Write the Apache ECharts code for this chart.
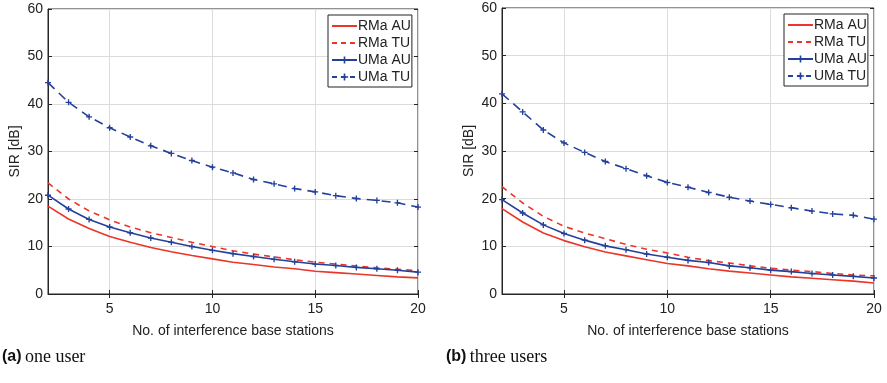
<!DOCTYPE html>
<html><head><meta charset="utf-8">
<script src="https://cdn.jsdelivr.net/npm/echarts@6/dist/echarts.min.js"></script>
<style>html,body{margin:0;padding:0;background:#fff}#c{width:887px;height:383px}</style>
</head><body><div id="c"></div>
<script>
const xValues = [2,3,4,5,6,7,8,9,10,11,12,13,14,15,16,17,18,19,20];
const xTicks = [5,10,15,20];
const seriesNames = ['RMa AU','RMa TU','UMa AU','UMa TU'];
// (a) one user
const oneRMaAU = [18.5,15.8,13.8,12.1,10.9,9.8,8.9,8.1,7.4,6.7,6.2,5.7,5.3,4.8,4.5,4.2,3.9,3.6,3.4];
const oneRMaTU = [23.4,20.0,17.5,15.6,14.1,12.9,11.9,10.9,10.0,9.1,8.4,7.8,7.2,6.7,6.3,5.9,5.5,5.2,4.9];
const oneUMaAU = [20.8,17.9,15.7,14.1,12.9,11.8,10.9,10.0,9.2,8.5,7.9,7.3,6.8,6.3,6.0,5.6,5.3,5.0,4.6];
const oneUMaTU = [44.5,40.35,37.3,35.0,33.05,31.2,29.6,28.1,26.7,25.5,24.1,23.2,22.2,21.5,20.7,20.1,19.7,19.2,18.3];
// (b) three users
const threeRMaAU = [17.9,15.1,12.8,11.2,9.9,8.8,8.0,7.2,6.4,5.9,5.3,4.8,4.4,4.0,3.6,3.3,3.0,2.7,2.3];
const threeRMaTU = [22.5,19.1,16.3,14.2,12.8,11.6,10.4,9.4,8.6,7.7,7.0,6.5,5.9,5.4,5.0,4.7,4.3,4.0,3.8];
const threeUMaAU = [19.8,17.0,14.5,12.7,11.3,10.1,9.3,8.4,7.7,7.05,6.6,5.9,5.5,5.0,4.7,4.3,4.0,3.7,3.35];
const threeUMaTU = [42.0,38.2,34.4,31.7,29.7,27.8,26.3,24.8,23.4,22.4,21.3,20.3,19.5,18.8,18.1,17.4,16.8,16.5,15.7];
const yTicks = [0,10,20,30,40,50,60];
const xTitle = 'No. of interference base stations';
const yTitle = 'SIR [dB]';
const captions = [['(a)','one user'],['(b)','three users']];

const RED = '#ea3528', BLUE = '#24409b';
const FONT = '"Liberation Sans", Arial, sans-serif';
const PLUS = 'path://M3.1,0h1.8v3.1h3.1v1.8h-3.1v3.1h-1.8v-3.1h-3.1v-1.8h3.1z';

const chart = echarts.init(document.getElementById('c'), null, {renderer:'canvas'});

const grids = [
  {left:48, right:469, top:9, bottom:89},
  {left:502, right:13, top:8, bottom:89}
];
const datasets = [
  [oneRMaAU, oneRMaTU, oneUMaAU, oneUMaTU],
  [threeRMaAU, threeRMaTU, threeUMaAU, threeUMaTU]
];
const xAxes = [], yAxes = [], series = [], legends = [];
grids.forEach((g, gi) => {
  g.show = true; g.borderColor = '#262626'; g.borderWidth = 1; g.backgroundColor = '#fff';
  xAxes.push({
    type:'value', gridIndex:gi, min:2, max:20,
    name: xTitle, nameLocation:'middle', nameGap:30,
    nameTextStyle:{fontFamily:FONT, fontSize:14, color:'#222'},
    axisLine:{show:true, onZero:false, lineStyle:{color:'#262626'}},
    axisTick:{show:true, inside:true, length:4, customValues:xTicks, lineStyle:{color:'#262626'}},
    axisLabel:{customValues:xTicks, fontFamily:FONT, fontSize:14, color:'#222', margin:8},
    splitLine:{show:true, lineStyle:{color:'#dcdcdc'}}
  });
  xAxes.push({
    type:'value', gridIndex:gi, min:2, max:20, position:'top',
    axisLine:{show:false},
    axisTick:{show:true, inside:true, length:4, customValues:xTicks, lineStyle:{color:'#262626'}},
    axisLabel:{show:false}, splitLine:{show:false}
  });
  yAxes.push({
    type:'value', gridIndex:gi, min:0, max:60, interval:10,
    name: yTitle, nameLocation:'middle', nameGap:26,
    nameTextStyle:{fontFamily:FONT, fontSize:14, color:'#222'},
    axisLine:{show:true, lineStyle:{color:'#262626'}},
    axisTick:{show:true, inside:true, length:4, lineStyle:{color:'#262626'}},
    axisLabel:{fontFamily:FONT, fontSize:14, color:'#222', margin:5},
    splitLine:{show:true, lineStyle:{color:'#dcdcdc'}}
  });
  yAxes.push({
    type:'value', gridIndex:gi, min:0, max:60, interval:10, position:'right',
    axisLine:{show:false},
    axisTick:{show:true, inside:true, length:4, lineStyle:{color:'#262626'}},
    axisLabel:{show:false}, splitLine:{show:false}
  });
  const d = datasets[gi];
  const styles = [
    {color:RED, dash:'solid', sym:'none'},
    {color:RED, dash:[6,5], sym:'none'},
    {color:BLUE, dash:'solid', sym:PLUS},
    {color:BLUE, dash:[9,6], sym:PLUS}
  ];
  seriesNames.forEach((n, si) => {
    const st = styles[si];
    series.push({
      type:'line', name:n, xAxisIndex:gi*2, yAxisIndex:gi*2,
      data: xValues.map((x,i)=>[x, d[si][i]]),
      symbol: st.sym, symbolSize:6, showSymbol: st.sym !== 'none',
      lineStyle:{color:st.color, width:1.6, type:st.dash},
      itemStyle:{color:st.color},
      emphasis:{disabled:true}, animation:false, z: 3
    });
  });
  const hidden = {color:'rgba(0,0,0,0)', borderWidth:0};
  legends.push({
    data: [
      {name:seriesNames[0], itemStyle:hidden},
      {name:seriesNames[1], itemStyle:hidden, lineStyle:{type:[5,4]}},
      {name:seriesNames[2]},
      {name:seriesNames[3], lineStyle:{type:[5,4]}}
    ],
    orient:'vertical',
    left: gi===0 ? 328 : 784, top: gi===0 ? 15 : 14,
    itemWidth:25, itemHeight:9, itemGap:3,
    padding:[4,1,3,3],
    borderColor:'#222', borderWidth:1, backgroundColor:'#fff',
    textStyle:{fontFamily:FONT, fontSize:14, color:'#222', padding:[0,0,0,-4]},
    selectedMode:false
  });
});

chart.setOption({
  animation:false,
  grid: grids,
  xAxis: xAxes,
  yAxis: yAxes,
  legend: legends,
  series: series,
  graphic: captions.map((c, i) => ({
    type:'text', left: i===0 ? 2 : 446, top: 348,
    style:{
      text: '{b|'+c[0]+'} {s|'+c[1]+'}',
      rich:{
        b:{fontFamily:FONT, fontWeight:'bold', fontSize:16, fill:'#111'},
        s:{fontFamily:'"Liberation Serif", "DejaVu Serif", serif', fontSize:18, fill:'#111'}
      }
    }
  }))
});
</script></body></html>
